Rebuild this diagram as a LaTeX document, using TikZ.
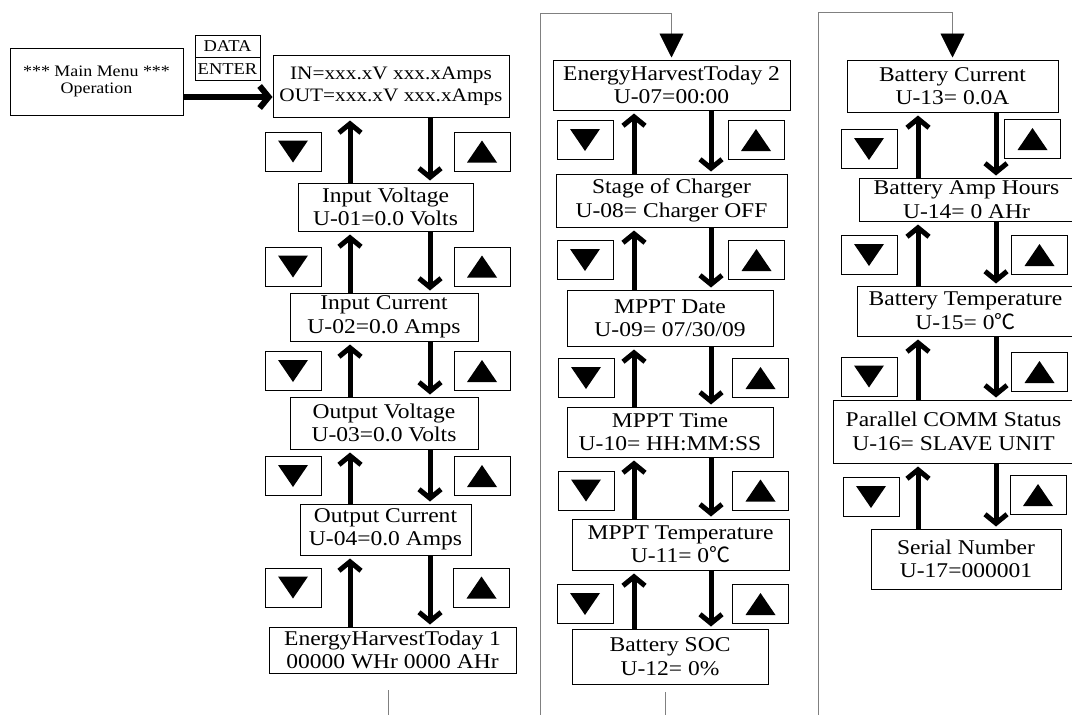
\documentclass[tikz,border=0pt]{standalone}
\usepackage{fontspec}
\setmainfont[FakeStretch=1.12]{Liberation Serif}
\newfontfamily\cjk{Noto Sans CJK SC}
\usetikzlibrary{arrows.meta}
\newcommand{\degc}{{\cjk ℃}}

\tikzset{
  screen/.style={draw, line width=1pt, align=center, inner sep=0pt, font=\fontsize{21}{23.5}\selectfont},
  key/.style={draw, line width=0.9pt, minimum width=56pt, minimum height=39pt, inner sep=0pt},
  keydn/.style={key, path picture={\fill ([xshift=-15pt,yshift=11pt]path picture bounding box.center) -- ++(30pt,0pt) -- ++(-15pt,-22pt) -- cycle;}},
  keyup/.style={key, path picture={\fill ([xshift=-15pt,yshift=-11pt]path picture bounding box.center) -- ++(30pt,0pt) -- ++(-15pt,22pt) -- cycle;}},
  move/.style={line width=5pt, -{Straight Barb[length=9pt,width=22pt]}},
  wire/.style={gray, line width=0.9pt},
  link/.style={wire, -{Triangle[length=24pt,width=24pt,black]}, shorten >=2pt},
}

\begin{document}
\begin{tikzpicture}[x=1pt, y=-1pt]
    \useasboundingbox (0,0) rectangle (1072,715);

    \node[screen, minimum width=173pt, minimum height=67pt, font=\fontsize{16}{17}\selectfont] (menu) at (96.5,81.5) {*** Main Menu ***\\Operation};
    \node[screen, minimum width=65pt, minimum height=22.5pt, font=\fontsize{16.5}{17}\selectfont] (data) at (227.5,46.25) {DATA};
    \node[screen, minimum width=65pt, minimum height=22.5pt, font=\fontsize{16.5}{17}\selectfont] (enter) at (227.5,68.75) {ENTER};
    \node[screen, minimum width=236pt, minimum height=62pt, font=\fontsize{19}{22}\selectfont] (inbox) at (391,86) {IN=xxx.xV xxx.xAmps\\OUT=xxx.xV xxx.xAmps};
    \coordinate (ma) at (0,97);
    \draw[line width=6pt, -{Straight Barb[length=9pt,width=22pt]}] (menu.east |- ma) -- (inbox.west |- ma);

    \node[screen, minimum width=175pt, minimum height=48pt] (iv) at (385.5,207) {Input Voltage\\U-01=0.0 Volts};
    \node[screen, minimum width=188pt, minimum height=48pt] (ic) at (384,317) {Input Current\\U-02=0.0 Amps};
    \node[screen, minimum width=188pt, minimum height=52pt] (ov) at (384,423) {Output Voltage\\U-03=0.0 Volts};
    \node[screen, minimum width=171pt, minimum height=51pt] (oc) at (385.5,529.5) {Output Current\\U-04=0.0 Amps};
    \node[screen, minimum width=247pt, minimum height=46pt] (eh1) at (392.5,650) {EnergyHarvestToday 1\\00000 WHr 0000 AHr};

    \node[screen, minimum width=237pt, minimum height=50pt] (eh2) at (671.5,85) {EnergyHarvestToday 2\\U-07=00:00};
    \node[screen, minimum width=231pt, minimum height=53pt] (sc) at (671.5,200.5) {Stage of Charger\\U-08= Charger OFF};
    \node[screen, minimum width=206pt, minimum height=56pt] (md) at (670,318) {MPPT Date\\U-09= 07/30/09};
    \node[screen, minimum width=206pt, minimum height=50pt] (mt) at (670,432) {MPPT Time\\U-10= HH:MM:SS};
    \node[screen, minimum width=217pt, minimum height=51pt] (mtemp) at (680.5,544.5) {MPPT Temperature\\U-11= 0\degc};
    \node[screen, minimum width=196pt, minimum height=55pt] (soc) at (670,656.5) {Battery SOC\\U-12= 0\%};

    \node[screen, minimum width=211pt, minimum height=52pt] (bc) at (952.5,86) {Battery Current\\U-13= 0.0A};
    \node[screen, minimum width=215pt, minimum height=43pt] (bah) at (966.5,199.5) {Battery Amp Hours\\U-14= 0 AHr};
    \node[screen, minimum width=217pt, minimum height=50pt] (bt) at (965.5,311) {Battery Temperature\\U-15= 0\degc};
    \node[screen, minimum width=241pt, minimum height=63pt] (pcs) at (953.5,431.5) {Parallel COMM Status\\U-16= SLAVE UNIT};
    \node[screen, minimum width=190pt, minimum height=60pt] (sn) at (966,559) {Serial Number\\U-17=000001};

    \foreach \n/\x/\y in {a1/293/151.5, a2/293/266.5, a3/293/371, a4/293/476, a5/293/587.5,
      b1/585/140, b2/585/260, b3/586/378, b4/586/490.5, b5/585/604,
      c1/869/149, c2/869/255, c3/869/376.5, c4/871/497}
      \node[keydn] (dn\n) at (\x,\y) {};
    \foreach \n/\x/\y in {a1/482/151.5, a2/482/266.5, a3/482/371, a4/482/476, a5/481.5/587.5,
      b1/756/140, b2/756.5/260, b3/760.5/378, b4/760.5/490.5, b5/760.5/604,
      c1/1032.5/139, c2/1039.5/255, c3/1039.5/372, c4/1038/495}
      \node[keyup] (up\n) at (\x,\y) {};

    \coordinate (ua) at (350,0);
    \coordinate (da) at (430,0);
    \coordinate (ub) at (634,0);
    \coordinate (db) at (711,0);
    \coordinate (uc) at (918,0);
    \coordinate (dc) at (996,0);
    \foreach \hi/\lo/\u/\d in {inbox/iv/ua/da, iv/ic/ua/da, ic/ov/ua/da, ov/oc/ua/da, oc/eh1/ua/da,
      eh2/sc/ub/db, sc/md/ub/db, md/mt/ub/db, mt/mtemp/ub/db, mtemp/soc/ub/db,
      bc/bah/uc/dc, bah/bt/uc/dc, bt/pcs/uc/dc, pcs/sn/uc/dc} {
      \draw[move, shorten >=3pt] (\lo.north -| \u) -- (\hi.south -| \u);
      \draw[move, shorten >=2pt] (\hi.south -| \d) -- (\lo.north -| \d);
    }

    \coordinate (s1) at (388,690);
    \coordinate (s1e) at (388,715);
    \coordinate (s2) at (665,692);
    \coordinate (s2e) at (665,715);
    \draw[wire] (s1) -- (s1e);
    \draw[wire] (s2) -- (s2e);
    \coordinate (l2a) at (540,715);
    \coordinate (l2b) at (540,13);
    \coordinate (l3a) at (818,715);
    \coordinate (l3b) at (818,12);
    \draw[link] (l2a) -- (l2b) -| (eh2.north);
    \draw[link] (l3a) -- (l3b) -| (bc.north);
\end{tikzpicture}
\end{document}
